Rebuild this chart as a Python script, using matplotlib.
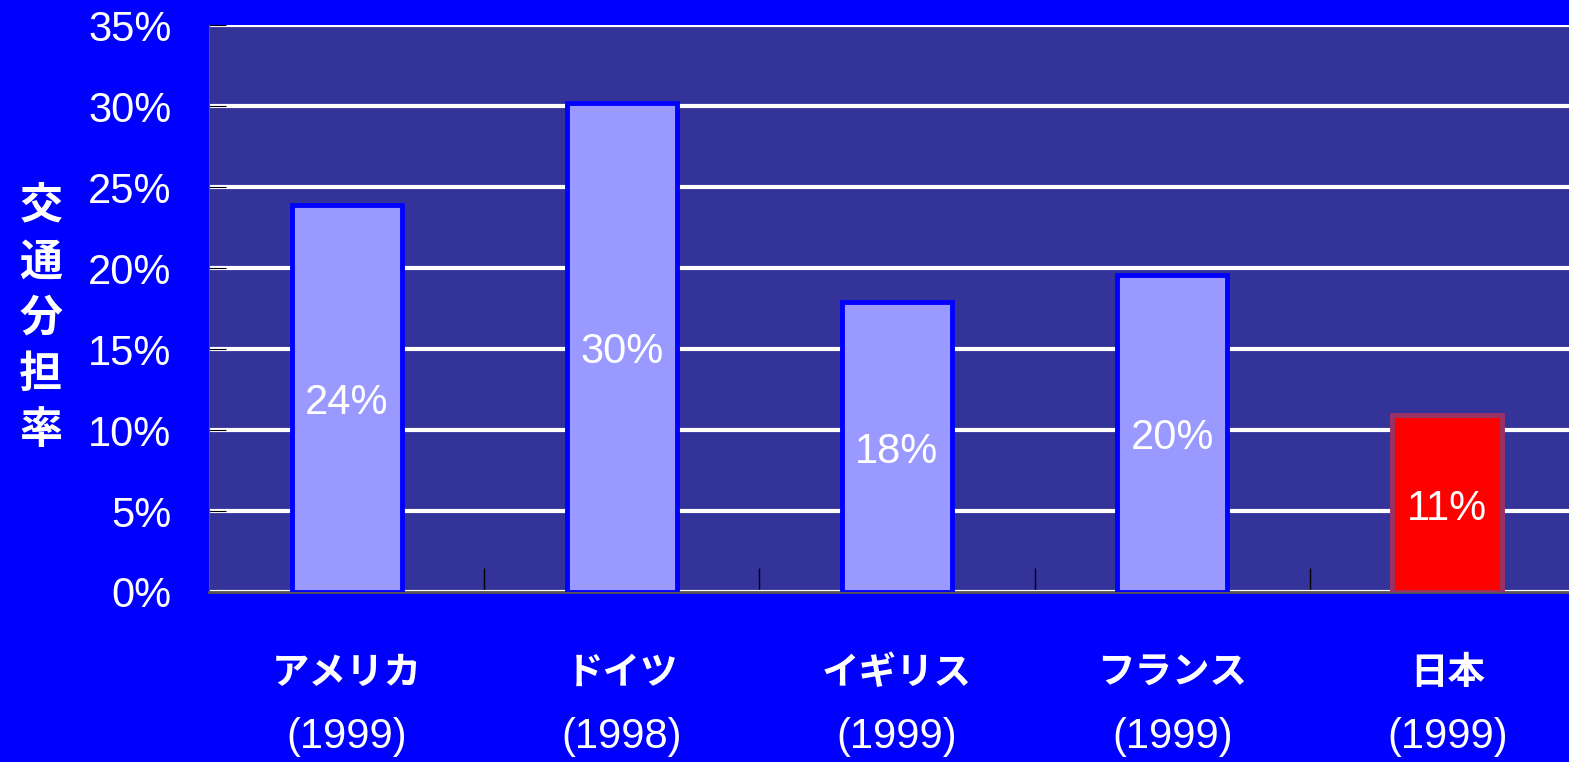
import matplotlib.pyplot as plt
import numpy as np

countries = ['アメリカ', 'ドイツ', 'イギリス', 'フランス', '日本']
years = ['(1999)', '(1998)', '(1999)', '(1999)', '(1999)']
share = [23.9, 30.2, 17.9, 19.6, 10.9]
share_labels = ['24%', '30%', '18%', '20%', '11%']
ytick_vals = [0, 5, 10, 15, 20, 25, 30, 35]

JP = ['Noto Sans CJK JP', 'DejaVu Sans']
NUM = ['Liberation Sans', 'DejaVu Sans']

fig = plt.figure(figsize=(15.69, 7.62), dpi=100)
fig.patch.set_facecolor('#0000ff')
ax = fig.add_axes([0.1332, 0.2231, 0.877, 0.744])
ax.set_facecolor('#333399')

x = np.arange(len(countries))
face = ['#9999ff'] * 4 + ['#ff0000']
edge = ['#0000ff'] * 4 + ['#993366']
ax.bar(x, share, width=0.4, color=face, edgecolor=edge, linewidth=3.5, zorder=3)

for xi, v, lab in zip(x, share, share_labels):
    ax.text(xi, v / 2 - 0.3, lab, ha='center', va='center', color='white',
            fontsize=30, family=NUM, zorder=4)

ax.set_xlim(-0.5, 4.5)
ax.set_ylim(0, 35)
ax.set_yticks(ytick_vals)
ax.set_yticklabels(['%d%%' % t for t in ytick_vals], color='white',
                   fontsize=30, family=NUM)
ax.yaxis.grid(True, color='white', linewidth=3, zorder=1)
ax.set_axisbelow(True)
ax.tick_params(axis='y', direction='in', length=12, color='black', pad=27)

ax.set_xticks(x)
ax.set_xticklabels(countries, color='white', fontsize=27, family=JP,
                   fontweight='bold')
ax.set_xticks(np.arange(0.5, 4.5, 1), minor=True)
ax.tick_params(axis='x', which='major', length=0, pad=44)
ax.tick_params(axis='x', which='minor', direction='in', length=17,
               color='black', width=1)

for xi, yr in zip(x, years):
    ax.text(xi, -0.255, yr, transform=ax.get_xaxis_transform(), ha='center',
            va='center', color='white', fontsize=30, family=NUM)

for s in ['top', 'right']:
    ax.spines[s].set_visible(False)
ax.spines['left'].set_color('#555555')
ax.spines['bottom'].set_color('#555555')
ax.spines['bottom'].set_linewidth(2)

fig.text(0.026, 0.583, '交\n通\n分\n担\n率', ha='center', va='center',
         color='white', fontsize=31, fontweight='bold', family=JP,
         linespacing=1.35)

fig.savefig('out.png', dpi=100, facecolor=fig.get_facecolor())
